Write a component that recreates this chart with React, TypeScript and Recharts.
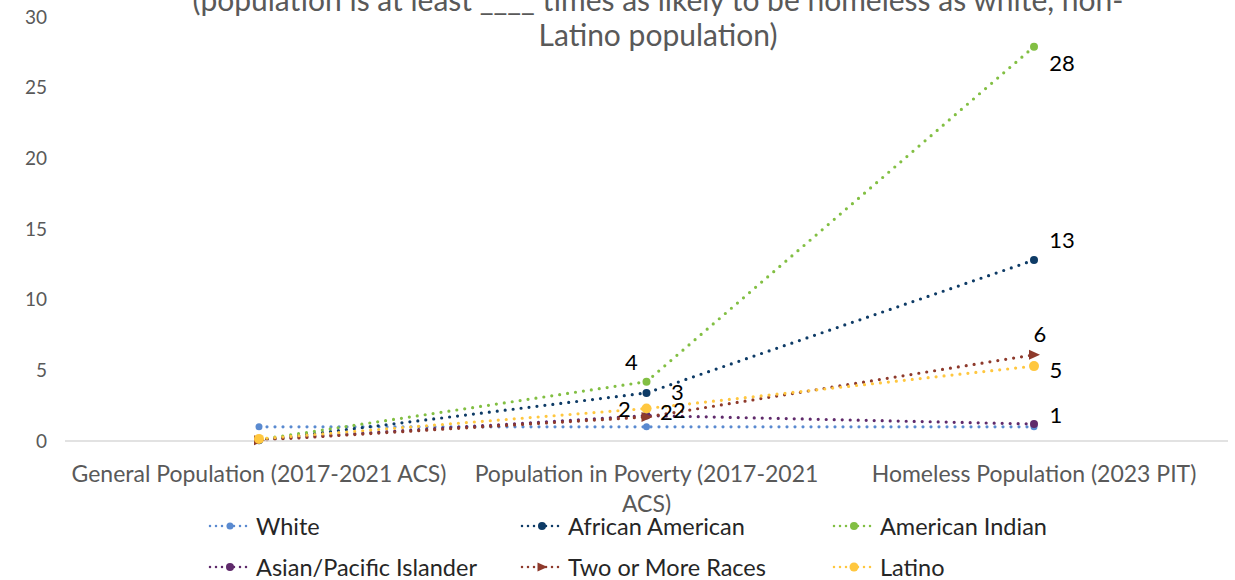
import { LineChart, Line, XAxis, YAxis, LabelList } from "recharts";

const categories = [
  "General Population (2017-2021 ACS)",
  "Population in Poverty (2017-2021 ACS)",
  "Homeless Population (2023 PIT)",
];
const categoryLines = [
  ["General Population (2017-2021 ACS)"],
  ["Population in Poverty (2017-2021", "ACS)"],
  ["Homeless Population (2023 PIT)"],
];
const titleLines = [
  "(population is at least ____ times as likely to be homeless as white, non-",
  "Latino population)",
];
const yTicks = [0, 5, 10, 15, 20, 25, 30];

const white = [1, 1, 1];
const africanAmerican = [0.05, 3.4, 12.8];
const americanIndian = [0.1, 4.2, 27.9];
const asianPacific = [0.1, 1.8, 1.2];
const twoOrMore = [0.05, 1.7, 6.1];
const latino = [0.15, 2.3, 5.3];

const FONT = "Lato, 'Noto Sans', sans-serif";
const GREY = "#595959";

type Series = {
  key: string;
  name: string;
  color: string;
  values: number[];
  r: number;
  shape: "circle" | "triangle";
  labels?: Array<[number, number] | null>;
};

const series: Series[] = [
  { key: "white", name: "White", color: "#5A8AD0", values: white, r: 3.5, shape: "circle" },
  {
    key: "africanAmerican",
    name: "African American",
    color: "#0E3B66",
    values: africanAmerican,
    r: 4,
    shape: "circle",
    labels: [null, [31, -1], [28, -21]],
  },
  {
    key: "americanIndian",
    name: "American Indian",
    color: "#82BF43",
    values: americanIndian,
    r: 4,
    shape: "circle",
    labels: [null, [-15, -20], [28, 16]],
  },
  {
    key: "asianPacific",
    name: "Asian/Pacific Islander",
    color: "#5F2A6B",
    values: asianPacific,
    r: 4,
    shape: "circle",
    labels: [null, [33, -6], [22, -10]],
  },
  {
    key: "twoOrMore",
    name: "Two or More Races",
    color: "#8E3A2C",
    values: twoOrMore,
    r: 5,
    shape: "triangle",
    labels: [null, [20, -5], [6, -21]],
  },
  {
    key: "latino",
    name: "Latino",
    color: "#FFC73F",
    values: latino,
    r: 5,
    shape: "circle",
    labels: [null, [-22, 0], [22, 3]],
  },
];

const data = categories.map((category, i) => {
  const row: Record<string, number | string> = { category };
  series.forEach((s) => {
    row[s.key] = s.values[i];
  });
  return row;
});

const Marker = ({ cx, cy, s }: { cx: number; cy: number; s: Series }) => {
  if (s.shape === "triangle") {
    const r = s.r;
    return (
      <polygon
        points={`${cx - r},${cy - r} ${cx + r + 1},${cy} ${cx - r},${cy + r}`}
        fill={s.color}
      />
    );
  }
  return <circle cx={cx} cy={cy} r={s.r} fill={s.color} />;
};

const CategoryTick = ({ x, y, index }: any) => {
  const lines = categoryLines[index] || [];
  return (
    <g>
      {lines.map((line, i) => (
        <text
          key={i}
          x={x}
          y={y + 41 + i * 30}
          textAnchor="middle"
          fill={GREY}
          fontSize={23}
          fontFamily={FONT}
        >
          {line}
        </text>
      ))}
    </g>
  );
};

const LegendItem = ({ s, left, top }: { s: Series; left: number; top: number }) => (
  <div
    style={{
      position: "absolute",
      left,
      top,
      display: "flex",
      alignItems: "center",
      fontFamily: FONT,
      fontSize: 23.5,
      color: "#262626",
      whiteSpace: "nowrap",
    }}
  >
    <svg width={44} height={14} style={{ marginRight: 4 }}>
      <line
        x1={2}
        y1={7}
        x2={42}
        y2={7}
        stroke={s.color}
        strokeWidth={2.5}
        strokeDasharray="0 6"
        strokeLinecap="round"
      />
      <Marker cx={22} cy={7} s={{ ...s, r: Math.min(s.r, 4.5) }} />
    </svg>
    {s.name}
  </div>
);

export default function App() {
  return (
    <div
      style={{
        position: "absolute",
        left: 0,
        top: 0,
        width: 1235,
        height: 580,
        overflow: "hidden",
        background: "#ffffff",
      }}
    >
      <LineChart
        width={1235}
        height={580}
        data={data}
        margin={{ top: 17, right: 7, bottom: 0, left: 0 }}
      >
        <XAxis
          dataKey="category"
          axisLine={{ stroke: "#D9D9D9", strokeWidth: 1.5 }}
          tickLine={false}
          tickSize={0}
          tickMargin={0}
          tick={<CategoryTick />}
          interval={0}
          height={139}
          padding={{ left: 194, right: 194 }}
        />
        <YAxis
          domain={[0, 30]}
          ticks={yTicks}
          width={65}
          axisLine={false}
          tickLine={false}
          tickSize={0}
          tickMargin={18}
          tick={{ fill: GREY, fontSize: 19, fontFamily: FONT }}
        />
        {series.map((s) => (
          <Line
            key={s.key}
            dataKey={s.key}
            name={s.name}
            type="linear"
            stroke={s.color}
            strokeWidth={3.2}
            strokeDasharray="0 8"
            strokeLinecap="round"
            isAnimationActive={false}
            dot={(p: any) => <Marker key={`${s.key}-${p.index}`} cx={p.cx} cy={p.cy} s={s} />}
            activeDot={false}
          >
            {s.labels && (
              <LabelList
                dataKey={s.key}
                content={(p: any) => {
                  const off = s.labels?.[p.index];
                  if (!off || p.value == null) return null;
                  return (
                    <text
                      x={Number(p.x) + off[0]}
                      y={Number(p.y) + off[1]}
                      textAnchor="middle"
                      dominantBaseline="central"
                      fontSize={22}
                      fontFamily={FONT}
                      fill="#000000"
                    >
                      {Math.round(Number(p.value))}
                    </text>
                  );
                }}
              />
            )}
          </Line>
        ))}
      </LineChart>
      <div
        style={{
          position: "absolute",
          left: 0,
          width: 1316,
          top: -18,
          textAlign: "center",
          fontFamily: FONT,
          fontSize: 30,
          lineHeight: "35px",
          color: GREY,
        }}
      >
        {titleLines.map((t) => (
          <div key={t}>{t}</div>
        ))}
      </div>
      {series.map((s, i) => (
        <LegendItem
          key={s.key}
          s={s}
          left={208 + (i % 3) * 312}
          top={512 + Math.floor(i / 3) * 41}
        />
      ))}
    </div>
  );
}
